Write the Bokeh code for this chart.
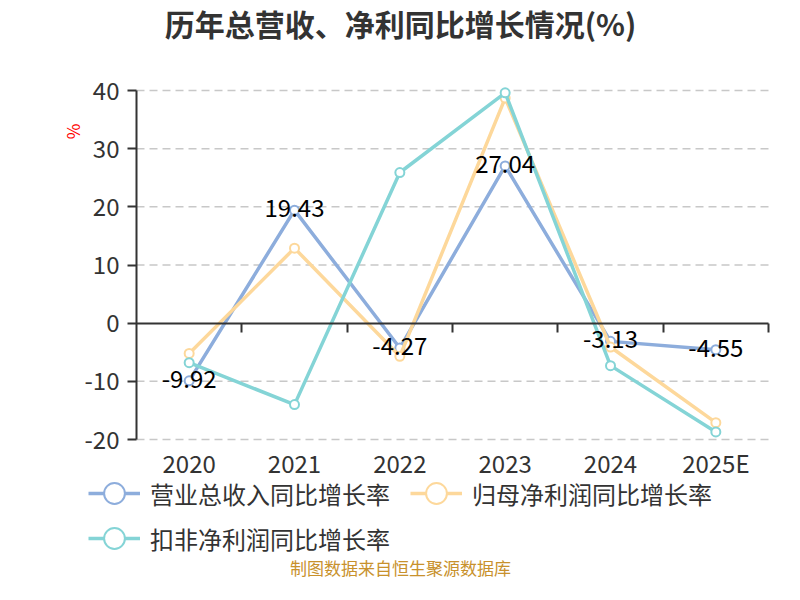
from bokeh.plotting import figure
from bokeh.models import (Range1d, LinearAxis, FixedTicker, Legend, LegendItem,
                          Label, ColumnDataSource)
from bokeh.core.properties import value
from bokeh.embed import file_html
from bokeh.resources import INLINE

# ---- data ----
categories = ["2020", "2021", "2022", "2023", "2024", "2025E"]
revenue_growth = [-9.92, 19.43, -4.27, 27.04, -3.13, -4.55]
net_profit_growth = [-5.2, 12.9, -5.7, 38.7, -4.1, -17.1]
deducted_profit_growth = [-6.8, -14.0, 25.9, 39.6, -7.3, -18.7]
series_names = ["营业总收入同比增长率", "归母净利润同比增长率", "扣非净利润同比增长率"]
y_ticks = [-20, -10, 0, 10, 20, 30, 40]

title_text = "历年总营收、净利同比增长情况(%)"
unit_text = "%"
footer_text = "制图数据来自恒生聚源数据库"

colors = ["#8DADDC", "#FDD89B", "#84D4D6"]
FONT = "Noto Sans CJK SC"

# ---- layout (pixels) ----
W, H = 784, 584
PLOT_L, PLOT_R = 136, 768      # pixel span of the category axis
PLOT_T, PLOT_B = 90, 439       # pixel span of the value axis
n = len(categories)
ymin, ymax = min(y_ticks), max(y_ticks)
px_per_x = (PLOT_R - PLOT_L) / n
px_per_y = (PLOT_B - PLOT_T) / (ymax - ymin)

x_start = -PLOT_L / px_per_x
x_end = (W - PLOT_L) / px_per_x
y_end = ymax + PLOT_T / px_per_y
y_start = ymin - (H - PLOT_B) / px_per_y

def dx(px):
    return (px - PLOT_L) / px_per_x

def dy(py):
    return ymax - (py - PLOT_T) / px_per_y

p = figure(width=W, height=H, output_backend="svg", toolbar_location=None,
           x_range=Range1d(x_start, x_end), y_range=Range1d(y_start, y_end),
           min_border=0, x_axis_location=None, y_axis_location=None,
           title_location=None, outline_line_color=None,
           background_fill_color="white", border_fill_color="white")
p.grid.visible = False

# dashed horizontal grid lines
grid_vals = [t for t in y_ticks if t != 0]
p.segment(x0=[0] * len(grid_vals), x1=[n] * len(grid_vals), y0=grid_vals,
          y1=grid_vals, line_color="#C8C8C8", line_width=1.5, line_dash="8 5")

# y axis
yaxis = LinearAxis(fixed_location=0, bounds=(ymin, ymax),
                   ticker=FixedTicker(ticks=y_ticks),
                   major_label_overrides={t: str(t) for t in y_ticks},
                   axis_line_color="#333333",
                   axis_line_width=2, major_tick_line_color="#333333",
                   major_tick_line_width=2, major_tick_out=9, major_tick_in=0,
                   minor_tick_line_color=None, major_label_standoff=8,
                   major_label_text_font_size="24px",
                   major_label_text_color="#333333", major_label_text_font=FONT)
p.add_layout(yaxis, "left")

# zero line with ticks at category boundaries
zaxis = LinearAxis(fixed_location=0, bounds=(0, n),
                   ticker=FixedTicker(ticks=list(range(1, n + 1))),
                   axis_line_color="#333333", axis_line_width=2,
                   major_tick_line_color="#333333", major_tick_line_width=2,
                   major_tick_out=9, major_tick_in=0, minor_tick_line_color=None,
                   major_label_text_font_size="0px", major_label_text_alpha=0)
p.add_layout(zaxis, "below")

# category labels below the plot
xaxis = LinearAxis(fixed_location=ymin,
                   ticker=FixedTicker(ticks=[i + 0.5 for i in range(n)]),
                   major_label_overrides={i + 0.5: c for i, c in enumerate(categories)},
                   axis_line_color=None, major_tick_line_color=None,
                   minor_tick_line_color=None, major_label_standoff=-1,
                   major_label_text_font_size="24px",
                   major_label_text_color="#333333", major_label_text_font=FONT)
p.add_layout(xaxis, "below")

xs = [i + 0.5 for i in range(n)]
all_series = [revenue_growth, net_profit_growth, deducted_profit_growth]
items = []
for name, vals, col in zip(series_names, all_series, colors):
    src = ColumnDataSource(dict(x=xs, y=vals))
    lr = p.line("x", "y", source=src, line_color=col, line_width=3.5)
    sr = p.scatter("x", "y", source=src, marker="circle", size=9,
                   fill_color="white", line_color=col, line_width=2)
    items.append(LegendItem(label=name, renderers=[lr, sr]))

# data labels on revenue series
lab_src = ColumnDataSource(dict(x=xs, y=revenue_growth,
                                t=[f"{v:.2f}" for v in revenue_growth]))
p.text("x", "y", text="t", source=lab_src, text_align="center",
       text_baseline="middle", text_font=value(FONT), text_font_size="24px",
       text_color="black", y_offset=-2)

def make_legend(its, loc):
    return Legend(items=its, location=loc, orientation="horizontal",
                  glyph_width=52, glyph_height=60, label_standoff=10, spacing=20,
                  padding=0, margin=0, border_line_color=None,
                  background_fill_alpha=0, label_text_font=FONT,
                  label_text_font_size="24px", label_text_color="#333333",
                  label_height=30)

leg1 = make_legend(items[:2], (88, H - 523))
leg2 = make_legend(items[2:], (88, H - 568))
p.add_layout(leg1, "center")
p.add_layout(leg2, "center")

# title, unit label and footer
p.add_layout(Label(x=dx(400), y=dy(22), text=title_text,
                   text_align="center", text_baseline="middle", text_font=FONT,
                   text_font_size="30px", text_font_style="bold",
                   text_color="#333333"))
p.add_layout(Label(x=dx(72), y=dy(131), text=unit_text, angle=1.5708,
                   text_align="center", text_baseline="middle", text_font=FONT,
                   text_font_size="17px", text_color="#FF0000"))
p.add_layout(Label(x=dx(400), y=dy(567), text=footer_text,
                   text_align="center", text_baseline="middle", text_font=FONT,
                   text_font_size="17px", text_color="#C8912C"))

open("out.html", "w").write(file_html(p, INLINE))
